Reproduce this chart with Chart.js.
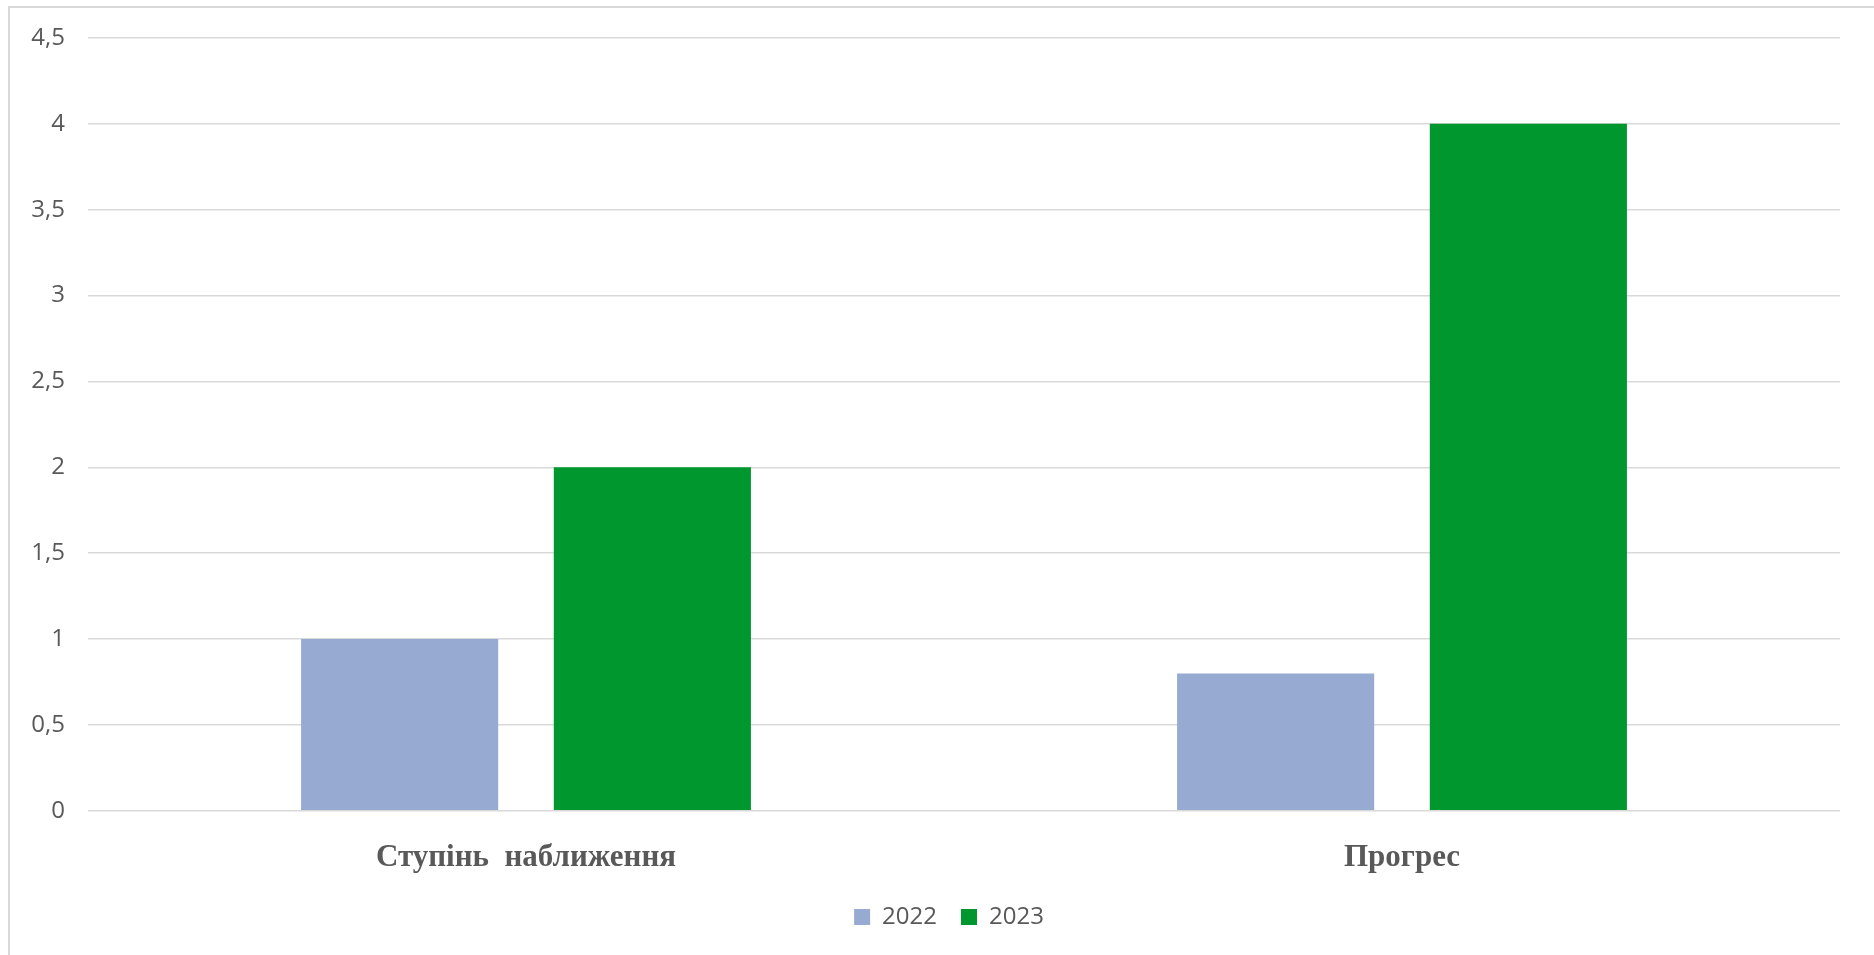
<!DOCTYPE html>
<html>
<head>
<meta charset="utf-8">
<script src="https://cdn.jsdelivr.net/npm/chart.js@4/dist/chart.umd.min.js"></script>
<style>
  html, body { margin: 0; padding: 0; background: #fff; overflow: hidden; }
  #wrap { position: relative; width: 1874px; height: 955px; }
  #frame { position: absolute; left: 8px; top: 6px; width: 2000px; height: 1000px;
           border-left: 2px solid #d9d9d9; border-top: 2px solid #d9d9d9; }
  canvas { position: absolute; left: 0; top: 0; }
</style>
</head>
<body>
<div id="wrap">
  <div id="frame"></div>
  <canvas id="chart" width="1874" height="955"></canvas>
</div>
<script>
const categories = ['Ступінь  наближення', 'Прогрес'];
const series2022 = [1, 0.8];
const series2023 = [2, 4];
const yTicks = [0, 0.5, 1, 1.5, 2, 2.5, 3, 3.5, 4, 4.5];

const ctx = document.getElementById('chart').getContext('2d');

const barChart = new Chart(ctx, {
    type: 'bar',
    data: {
        labels: categories,
        datasets: [{
            label: '2022',
            data: series2022,
            backgroundColor: '#96aad2'
        }, {
            label: '2023',
            data: series2023,
            backgroundColor: '#00972f'
        }]
    },
    options: {
        responsive: false,
        animation: false,
        categoryPercentage: 0.577,
        barPercentage: 0.78,
        layout: {
            padding: { left: 10, right: 34, top: 38, bottom: 17 }
        },
        plugins: {
            tooltip: { enabled: false },
            legend: {
                position: 'bottom',
                labels: {
                    boxWidth: 16,
                    boxHeight: 16,
                    padding: 24,
                    color: '#595959',
                    font: { family: 'Open Sans', size: 24 }
                }
            }
        },
        scales: {
            x: {
                grid: { display: false },
                border: { display: false },
                ticks: {
                    padding: 21,
                    color: '#595959',
                    font: { family: 'Liberation Serif', size: 31, weight: 'bold' }
                }
            },
            y: {
                min: 0,
                max: 4.5,
                afterBuildTicks: axis => {
                    axis.ticks = yTicks.map(v => ({ value: v }));
                },
                afterFit: axis => { axis.width = 78; },
                grid: { color: '#d9d9d9', lineWidth: 1.5, drawTicks: false },
                border: { display: false },
                ticks: {
                    padding: 23,
                    color: '#595959',
                    font: { family: 'Open Sans', size: 24 },
                    callback: v => String(v).replace('.', ',')
                }
            }
        }
    }
});

// wide gap between legend items, but a short legend strip placed like the original
const legendFit = barChart.legend.fit;
barChart.legend.fit = function () {
    legendFit.call(this);
    this.height = 40;
};
const legendDraw = barChart.legend.draw;
barChart.legend.draw = function (area) {
    const c = this.ctx;
    const oldBottom = this.bottom;
    c.save();
    c.translate(24, -17);
    this.bottom = oldBottom + 80;
    legendDraw.call(this, area);
    this.bottom = oldBottom;
    c.restore();
};
barChart.update();
</script>
</body>
</html>
